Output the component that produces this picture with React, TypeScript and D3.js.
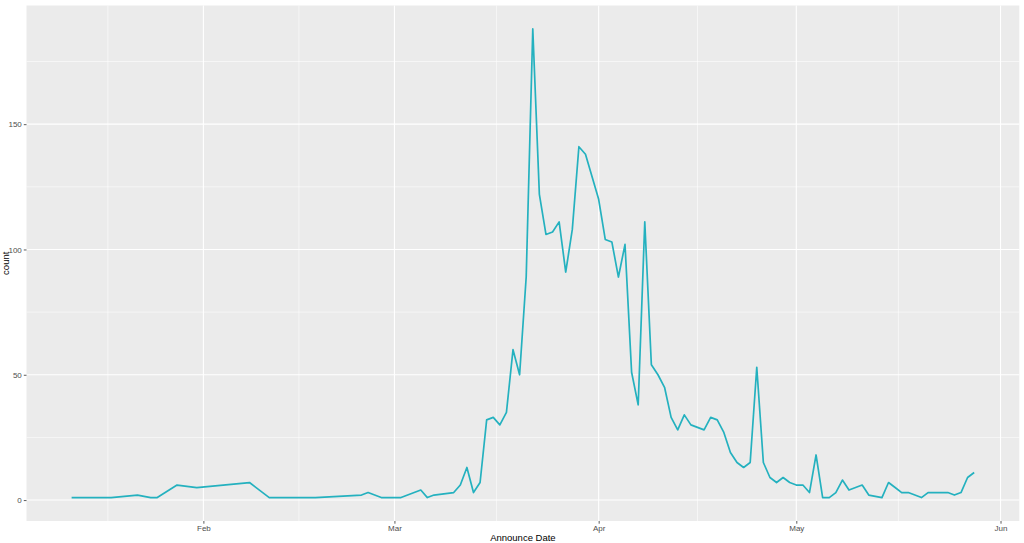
import * as d3 from 'd3'
import React, { useEffect, useRef } from "react";

// announce counts per day (gaps = days with no record)
const dates: string[] = [
    '2020-01-12', '2020-01-18', '2020-01-22', '2020-01-24', '2020-01-25', '2020-01-28', '2020-01-31',
    '2020-02-08', '2020-02-11', '2020-02-18', '2020-02-25', '2020-02-26', '2020-02-28',
    '2020-03-02', '2020-03-05', '2020-03-06', '2020-03-07', '2020-03-10', '2020-03-11', '2020-03-12',
    '2020-03-13', '2020-03-14', '2020-03-15', '2020-03-16', '2020-03-17', '2020-03-18', '2020-03-19',
    '2020-03-20', '2020-03-21', '2020-03-22', '2020-03-23', '2020-03-24', '2020-03-25', '2020-03-26',
    '2020-03-27', '2020-03-28', '2020-03-29', '2020-03-30', '2020-03-31',
    '2020-04-01', '2020-04-02', '2020-04-03', '2020-04-04', '2020-04-05', '2020-04-06', '2020-04-07',
    '2020-04-08', '2020-04-09', '2020-04-10', '2020-04-11', '2020-04-12', '2020-04-13', '2020-04-14',
    '2020-04-15', '2020-04-16', '2020-04-17', '2020-04-18', '2020-04-19', '2020-04-20', '2020-04-21',
    '2020-04-22', '2020-04-23', '2020-04-24', '2020-04-25', '2020-04-26', '2020-04-27', '2020-04-28',
    '2020-04-29', '2020-04-30',
    '2020-05-01', '2020-05-02', '2020-05-03', '2020-05-04', '2020-05-05', '2020-05-06', '2020-05-07',
    '2020-05-08', '2020-05-09', '2020-05-10', '2020-05-11', '2020-05-12', '2020-05-14', '2020-05-15',
    '2020-05-16', '2020-05-17', '2020-05-18', '2020-05-19', '2020-05-20', '2020-05-21', '2020-05-22',
    '2020-05-23', '2020-05-24', '2020-05-25', '2020-05-26', '2020-05-27', '2020-05-28'
]

const counts: number[] = [
    1, 1, 2, 1, 1, 6, 5,
    7, 1, 1, 2, 3, 1,
    1, 4, 1, 2, 3, 6, 13,
    3, 7, 32, 33, 30, 35, 60,
    50, 89, 188, 122, 106, 107, 111,
    91, 108, 141, 138, 129,
    120, 104, 103, 89, 102, 51, 38,
    111, 54, 50, 45, 33, 28, 34,
    30, 29, 28, 33, 32, 27, 19,
    15, 13, 15, 53, 15, 9, 7,
    9, 7,
    6, 6, 3, 18, 1, 1, 3,
    8, 4, 5, 6, 2, 1, 7,
    5, 3, 3, 2, 1, 3, 3,
    3, 3, 2, 3, 9, 11
]

const monthBreaks: string[] = ['2020-02-01', '2020-03-01', '2020-04-01', '2020-05-01', '2020-06-01']
const monthLabels: string[] = ['Feb', 'Mar', 'Apr', 'May', 'Jun']
const yBreaks: number[] = [0, 50, 100, 150]

interface Row { date: Date; count: number }

const App: React.FC = () => {
    const ref = useRef<SVGSVGElement>(null);

    useEffect(() => {
        if (!ref.current) return;
        const width = 1024;
        const height = 543;
        const m = { left: 26.5, right: 4.7, top: 5.5, bottom: 22 };

        const svg = d3.select(ref.current)
            .attr('width', width)
            .attr('height', height);
        svg.selectAll('*').remove();

        const data: Row[] = dates.map((d, i) => ({ date: new Date(d + 'T00:00:00Z'), count: counts[i] }));

        // ggplot style 5% expansion
        const [x0, x1] = d3.extent(data, d => +d.date) as [number, number];
        const xPad = (x1 - x0) * 0.05;
        const [y0, y1] = d3.extent(data, d => d.count) as [number, number];
        const yPad = (y1 - y0) * 0.05;

        const x = d3.scaleUtc()
            .domain([new Date(x0 - xPad), new Date(x1 + xPad)])
            .range([m.left, width - m.right]);
        const y = d3.scaleLinear()
            .domain([y0 - yPad, y1 + yPad])
            .range([height - m.bottom, m.top]);

        const pw = width - m.right - m.left;
        const ph = height - m.bottom - m.top;

        svg.append('rect')
            .attr('x', m.left).attr('y', m.top)
            .attr('width', pw).attr('height', ph)
            .attr('fill', '#EBEBEB');

        const majors = monthBreaks.map(s => new Date(s + 'T00:00:00Z'));
        // minor breaks: midpoints, with one extra major before the first
        const ext = [new Date(+majors[0] - (+majors[1] - +majors[0])), ...majors];
        const minorX = d3.pairs(ext).map(([a, b]) => new Date((+a + +b) / 2));
        const minorY = d3.pairs(yBreaks).map(([a, b]) => (a + b) / 2).concat([175]);

        const grid = svg.append('g');
        minorX.filter(d => x(d) > m.left && x(d) < width - m.right).forEach(d => {
            grid.append('line').attr('x1', x(d)).attr('x2', x(d)).attr('y1', m.top).attr('y2', m.top + ph)
                .attr('stroke', '#fff').attr('stroke-width', 0.55);
        });
        minorY.forEach(v => {
            grid.append('line').attr('x1', m.left).attr('x2', m.left + pw).attr('y1', y(v)).attr('y2', y(v))
                .attr('stroke', '#fff').attr('stroke-width', 0.55);
        });
        majors.forEach(d => {
            grid.append('line').attr('x1', x(d)).attr('x2', x(d)).attr('y1', m.top).attr('y2', m.top + ph)
                .attr('stroke', '#fff').attr('stroke-width', 1.1);
        });
        yBreaks.forEach(v => {
            grid.append('line').attr('x1', m.left).attr('x2', m.left + pw).attr('y1', y(v)).attr('y2', y(v))
                .attr('stroke', '#fff').attr('stroke-width', 1.1);
        });

        const line = d3.line<Row>()
            .x(d => x(d.date))
            .y(d => y(d.count));

        svg.append('path')
            .datum(data)
            .attr('fill', 'none')
            .attr('stroke', '#24B1BF')
            .attr('stroke-width', 1.7)
            .attr('stroke-linejoin', 'round')
            .attr('d', line);

        const xAxis = svg.append('g')
            .attr('transform', `translate(0, ${m.top + ph})`)
            .call(d3.axisBottom(x).tickValues(majors).tickSize(2.7).tickPadding(2)
                .tickFormat((_, i) => monthLabels[i]));
        const yAxis = svg.append('g')
            .attr('transform', `translate(${m.left}, 0)`)
            .call(d3.axisLeft(y).tickValues(yBreaks).tickSize(2.7).tickPadding(2));

        [xAxis, yAxis].forEach(a => {
            a.select('.domain').remove();
            a.selectAll('line').attr('stroke', '#333333').attr('stroke-width', 0.8);
            a.selectAll('text').attr('fill', '#4D4D4D')
                .style('font-family', '"Liberation Sans", Arial, sans-serif').style('font-size', '8px');
        });

        svg.append('text')
            .attr('x', m.left + pw / 2).attr('y', height - 2.5)
            .attr('text-anchor', 'middle')
            .style('font-family', '"Liberation Sans", Arial, sans-serif').style('font-size', '9.5px')
            .attr('fill', '#000')
            .text('Announce Date');

        svg.append('text')
            .attr('transform', `translate(8.5, ${m.top + ph / 2}) rotate(-90)`)
            .attr('text-anchor', 'middle')
            .style('font-family', '"Liberation Sans", Arial, sans-serif').style('font-size', '9.5px')
            .attr('fill', '#000')
            .text('count');
    }, [])

    return (<svg ref={ref} style={{ position: 'absolute', left: 0, top: 0, background: '#fff' }}></svg>);
}

export default App;
